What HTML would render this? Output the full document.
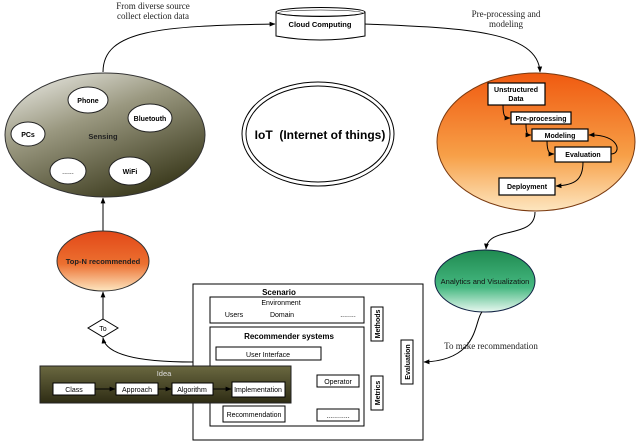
<!DOCTYPE html>
<html><head><meta charset="utf-8"><style>
html,body{margin:0;padding:0;background:#fff;}
svg{display:block;}
text{font-family:"Liberation Sans",sans-serif;}
.s{font-family:"Liberation Serif",serif;font-size:9px;fill:#222;}
</style></head><body>
<svg width="638" height="443" viewBox="0 0 638 443" xmlns="http://www.w3.org/2000/svg">
<defs>
<marker id="a" viewBox="0 0 10 10" refX="9" refY="5" markerWidth="6" markerHeight="6" orient="auto"><path d="M0,1 L10,5 L0,9z" fill="#000"/></marker>
<linearGradient id="gs" x1="0" y1="0" x2="0.6" y2="1"><stop offset="0" stop-color="#f2f2ee"/><stop offset="0.45" stop-color="#9a9880"/><stop offset="1" stop-color="#403f22"/></linearGradient>
<linearGradient id="go" x1="0" y1="0" x2="0" y2="1"><stop offset="0" stop-color="#f05a10"/><stop offset="0.6" stop-color="#f7a048"/><stop offset="1" stop-color="#fde6c0"/></linearGradient>
<linearGradient id="gt" x1="0" y1="0" x2="0" y2="1"><stop offset="0" stop-color="#e24818"/><stop offset="0.55" stop-color="#ec7030"/><stop offset="1" stop-color="#fde6c0"/></linearGradient>
<linearGradient id="gg" x1="0" y1="0" x2="0" y2="1"><stop offset="0" stop-color="#1f8a50"/><stop offset="0.6" stop-color="#45b880"/><stop offset="1" stop-color="#e8f8f0"/></linearGradient>
<linearGradient id="gi" x1="0" y1="0" x2="0" y2="1"><stop offset="0" stop-color="#6a6840"/><stop offset="1" stop-color="#2e2c14"/></linearGradient>
</defs>

<path d="M103,72 C103,30 160,26 275,24" fill="none" stroke="#000" stroke-width="1" marker-end="url(#a)"/>
<text class="s" x="153" y="9" text-anchor="middle">From diverse source</text>
<text class="s" x="153" y="19" text-anchor="middle">collect election data</text>
<path d="M365,24 C460,28 538,30 540,72" fill="none" stroke="#000" stroke-width="1" marker-end="url(#a)"/>
<text class="s" x="506" y="17" text-anchor="middle">Pre-processing and</text>
<text class="s" x="506" y="27" text-anchor="middle">modeling</text>

<path d="M276,12 L276,36 Q320,44 365,36 L365,12" fill="#fff" stroke="#000"/>
<ellipse cx="320.5" cy="12" rx="44.5" ry="4.5" fill="#fff" stroke="#000"/>
<ellipse cx="320.5" cy="13" rx="42" ry="3" fill="none" stroke="#000" stroke-width="0.6"/>
<text x="320" y="27" font-size="7.5" font-weight="bold" text-anchor="middle">Cloud Computing</text>

<ellipse cx="105" cy="135" rx="100" ry="62" fill="url(#gs)" stroke="#333"/>
<ellipse cx="88" cy="100" rx="20" ry="13" fill="#fff" stroke="#222"/>
<text x="88" y="103" font-size="7" font-weight="bold" text-anchor="middle">Phone</text>
<ellipse cx="150" cy="118" rx="22" ry="14" fill="#fff" stroke="#222"/>
<text x="150" y="121" font-size="7" font-weight="bold" text-anchor="middle">Bluetouth</text>
<ellipse cx="28" cy="134" rx="17" ry="12" fill="#fff" stroke="#222"/>
<text x="28" y="137" font-size="7" font-weight="bold" text-anchor="middle">PCs</text>
<ellipse cx="68" cy="171" rx="18" ry="13" fill="#fff" stroke="#222"/>
<text x="68" y="174" font-size="7" text-anchor="middle">......</text>
<ellipse cx="130" cy="171" rx="21" ry="14" fill="#fff" stroke="#222"/>
<text x="130" y="174" font-size="7" font-weight="bold" text-anchor="middle">WiFi</text>
<text x="103" y="139" font-size="7.5" font-weight="bold" text-anchor="middle" fill="#222">Sensing</text>

<ellipse cx="318" cy="134" rx="76" ry="52" fill="#fff" stroke="#000"/>
<ellipse cx="318" cy="134" rx="72" ry="48" fill="none" stroke="#000"/>
<text x="320" y="139" font-size="12" font-weight="bold" text-anchor="middle" xml:space="preserve">IoT  (Internet of things)</text>

<ellipse cx="536" cy="142" rx="99" ry="69" fill="url(#go)" stroke="#7a3a10"/>
<g fill="#fff" stroke="#000" stroke-width="1.2">
<rect x="488" y="83" width="57" height="22"/>
<rect x="511" y="112" width="60" height="12"/>
<rect x="532" y="129" width="56" height="12"/>
<rect x="555" y="147" width="56" height="15"/>
<rect x="499" y="178" width="56" height="17"/>
</g>
<g font-size="7" font-weight="bold" text-anchor="middle">
<text x="516" y="92">Unstructured</text><text x="516" y="101">Data</text>
<text x="541" y="121">Pre-processing</text>
<text x="560" y="138">Modeling</text>
<text x="583" y="157">Evaluation</text>
<text x="527" y="189">Deployment</text>
</g>
<g fill="none" stroke="#000" stroke-width="1">
<path d="M503,105 C503,117 505,118 510,118" marker-end="url(#a)"/>
<path d="M526,124 C526,135 528,135 531,135" marker-end="url(#a)"/>
<path d="M547,141 C547,153 550,154 554,154" marker-end="url(#a)"/>
<path d="M611,154 C622,154 620,134 589,135" marker-end="url(#a)"/>
<path d="M583,162 C583,180 575,185 556,186" marker-end="url(#a)"/>
<path d="M535,212 C535,240 488,225 486,249" marker-end="url(#a)"/>
</g>

<ellipse cx="485" cy="281" rx="50" ry="31" fill="url(#gg)" stroke="#124"/>
<text x="485" y="284" font-size="7.5" text-anchor="middle" fill="#111">Analytics and Visualization</text>
<path d="M482,312 C474,320 480,360 424,362" fill="none" stroke="#000" marker-end="url(#a)"/>
<text class="s" x="491" y="349" text-anchor="middle">To make recommendation</text>

<path d="M103,231 L103,198" stroke="#000" marker-end="url(#a)"/>
<ellipse cx="103" cy="261" rx="46" ry="30" fill="url(#gt)" stroke="#333"/>
<text x="103" y="264" font-size="7.5" font-weight="bold" text-anchor="middle" fill="#222">Top-N recommended</text>
<path d="M103,319 L103,292" stroke="#000" marker-end="url(#a)"/>
<polygon points="103,319 118,328 103,337 88,328" fill="#fff" stroke="#000"/>
<text x="103" y="331" font-size="7" text-anchor="middle">To</text>
<path d="M193,362 C140,362 106,355 103,338" fill="none" stroke="#000" marker-end="url(#a)"/>

<rect x="193" y="284" width="230" height="156" fill="#fff" stroke="#000"/>
<text x="279" y="295" font-size="8" font-weight="bold" text-anchor="middle">Scenario</text>
<rect x="210" y="297" width="154" height="26" fill="#fff" stroke="#000"/>
<text x="281" y="305" font-size="7" text-anchor="middle">Environment</text>
<text x="234" y="317" font-size="7" text-anchor="middle">Users</text>
<text x="282" y="317" font-size="7" text-anchor="middle">Domain</text>
<text x="348" y="317" font-size="7" text-anchor="middle">........</text>
<rect x="210" y="327" width="154" height="99" fill="#fff" stroke="#000"/>
<text x="289" y="339" font-size="8" font-weight="bold" text-anchor="middle">Recommender systems</text>
<rect x="216" y="347" width="105" height="13" fill="#fff" stroke="#000"/>
<text x="268" y="357" font-size="7" text-anchor="middle">User Interface</text>
<rect x="317" y="375" width="42" height="12" fill="#fff" stroke="#000"/>
<text x="338" y="384" font-size="7" text-anchor="middle">Operator</text>
<rect x="223" y="406" width="62" height="16" fill="#fff" stroke="#000"/>
<text x="254" y="417" font-size="7" text-anchor="middle">Recommendation</text>
<rect x="317" y="409" width="42" height="12" fill="#fff" stroke="#000"/>
<text x="338" y="418" font-size="7" text-anchor="middle">............</text>
<rect x="371" y="307" width="12" height="34" fill="#fff" stroke="#000"/>
<text transform="translate(380,324) rotate(-90)" font-size="7" font-weight="bold" text-anchor="middle">Methods</text>
<rect x="371" y="376" width="12" height="34" fill="#fff" stroke="#000"/>
<text transform="translate(380,393) rotate(-90)" font-size="7" font-weight="bold" text-anchor="middle">Metrics</text>
<rect x="401" y="340" width="12" height="44" fill="#fff" stroke="#000"/>
<text transform="translate(410,362) rotate(-90)" font-size="7" font-weight="bold" text-anchor="middle">Evaluation</text>

<rect x="40" y="366" width="251" height="37" fill="url(#gi)" stroke="#222"/>
<text x="164" y="376" font-size="7.5" text-anchor="middle" fill="#ddd">Idea</text>
<g fill="#fff" stroke="#000">
<rect x="53" y="383" width="42" height="12"/>
<rect x="116" y="383" width="42" height="12"/>
<rect x="172" y="383" width="41" height="12"/>
<rect x="232" y="382" width="53" height="15"/>
</g>
<g stroke="#000" marker-end="url(#a)"><path d="M95,389 L115,389"/><path d="M158,389 L171,389"/><path d="M213,389 L231,389"/></g>
<g font-size="7" text-anchor="middle">
<text x="74" y="392">Class</text><text x="137" y="392">Approach</text><text x="192" y="392">Algorithm</text><text x="258" y="392">Implementation</text>
</g>
</svg>
</body></html>
